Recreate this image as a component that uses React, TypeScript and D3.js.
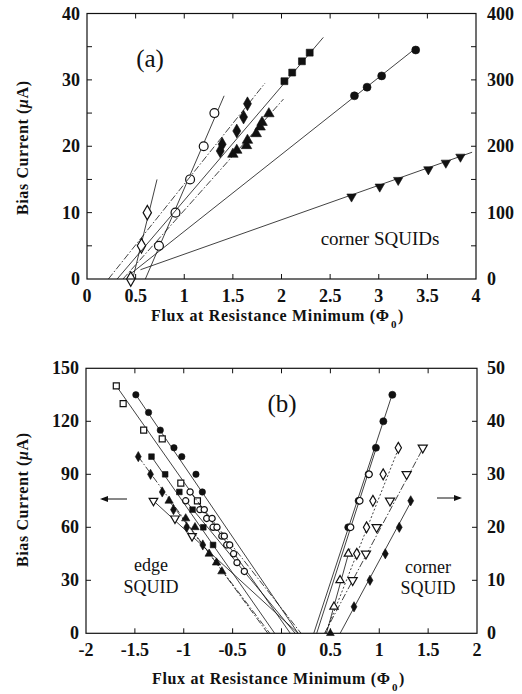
import React from "react";
import * as d3 from "d3";

// ---------- Panel (a) data: corner SQUIDs ----------
const aOpenDiamond = [[0.45, 0], [0.56, 5], [0.62, 10]];
const aOpenDiamondLine = [[0.47, 0], [0.72, 15]];
const aOpenCircle = [[0.74, 5], [0.91, 10], [1.06, 15], [1.2, 20], [1.31, 25]];
const aOpenCircleLine = [[0.6, 0], [1.41, 27.6]];
const aFilledDiamond = [[1.37, 19.3], [1.39, 20.3], [1.54, 22.3], [1.61, 24.4], [1.65, 26.4]];
const aFilledDiamondLine = [[0.22, 0], [1.83, 29.5]];
const aFilledSquare = [[2.03, 29.8], [2.11, 31.1], [2.21, 32.8], [2.29, 34.1]];
const aFilledSquareLine = [[0.31, 0], [2.43, 36.4]];
const aFilledTri = [[1.5, 18.8], [1.54, 19.4], [1.64, 20.1], [1.65, 20.9], [1.74, 21.9], [1.78, 22.9], [1.8, 23.6], [1.87, 24.9]];
const aFilledTriLine = [[0.37, 0], [2.02, 27.1]];
const aFilledCircle = [[2.75, 27.6], [2.88, 28.9], [3.03, 30.6], [3.38, 34.5]];
const aFilledCircleLine = [[0.45, 0.8], [3.4, 35]];
const aFilledTriDown = [[2.72, 12.4], [3.01, 13.9], [3.2, 14.9], [3.51, 16.5], [3.69, 17.5], [3.84, 18.4]];
const aFilledTriDownLine = [[0.55, 1.4], [3.96, 19.1]];

// ---------- Panel (b) data: edge SQUID (left axis, µA) ----------
const eFilledCircle = [[-1.49, 135], [-1.36, 125], [-1.24, 115], [-1.1, 105], [-1.02, 100], [-0.875, 90], [-0.81, 80]];
const eFilledCircleLine = [[-1.49, 135], [0.17, 0]];
const eOpenSquare = [[-1.69, 140], [-1.62, 130], [-1.41, 115], [-1.22, 110], [-1.03, 85], [-0.86, 75]];
const eOpenSquareLine = [[-1.69, 140], [0.09, 0]];
const eFilledDiamond = [[-1.465, 100], [-1.34, 90], [-1.22, 80], [-1.105, 70], [-0.97, 60], [-0.805, 50]];
const eFilledDiamondLine = [[-1.465, 100], [-0.14, 0]];
const eFilledSquare = [[-1.33, 100], [-1.19, 90], [-1.045, 80], [-0.91, 70], [-0.8, 60], [-0.7, 50]];
const eFilledSquareLine = [[-1.33, 100], [-0.07, 0]];
const eOpenTriDown = [[-1.31, 75], [-1.09, 65], [-0.915, 55]];
const eOpenTriDownLine = [[-1.31, 75], [0.17, 0]];
const eFilledTri = [[-1.15, 75], [-0.98, 65], [-0.885, 60], [-0.74, 45], [-0.665, 40], [-0.61, 35]];
const eFilledTriLine = [[-1.15, 75], [-0.12, 0]];
const eOpenCircleA = [[-0.98, 75], [-0.835, 70], [-0.765, 65], [-0.7, 60], [-0.61, 55], [-0.56, 50], [-0.49, 45], [-0.455, 40], [-0.38, 35]];
const eOpenCircleALine = [[-0.98, 75], [0.14, 0]];
const eOpenCircleB = [[-0.935, 80], [-0.79, 70], [-0.71, 65], [-0.66, 60], [-0.585, 55], [-0.53, 50]];
const eOpenCircleBLine = [[-0.935, 80], [0.2, 0]];

// ---------- Panel (b) data: corner SQUID (right axis, µA) ----------
const cFilledCircle = [[0.683, 20], [0.789, 25], [0.891, 30], [0.966, 35], [1.042, 40], [1.134, 45]];
const cFilledCircleLine = [[0.33, 0], [1.14, 45.5]];
const cOpenCircle = [[0.706, 20], [0.8, 25], [0.895, 30]];
const cOpenCircleLine = [[0.36, 0], [0.97, 35]];
const cOpenDiamond = [[0.77, 15], [0.87, 20], [0.935, 25], [1.04, 30], [1.195, 35]];
const cOpenDiamondLine = [[0.45, 0], [1.2, 35]];
const cOpenTriDown = [[0.728, 10], [0.864, 15], [0.973, 20], [1.11, 25], [1.28, 30], [1.445, 35]];
const cOpenTriDownLine = [[0.44, 0], [1.45, 35]];
const cFilledDiamond = [[0.742, 5], [0.905, 10], [1.062, 15], [1.205, 20], [1.322, 25]];
const cFilledDiamondLine = [[0.6, 0], [1.33, 25]];
const cOpenTriUp = [[0.537, 5], [0.599, 10], [0.684, 15]];
const cOpenTriUpLine = [[0.46, 0], [0.7, 16]];
const cFilledTri = [[0.5, 0]];

// ---------- Ticks ----------
const aXTicks = [0, 0.5, 1, 1.5, 2, 2.5, 3, 3.5, 4];
const aYTicks = [0, 10, 20, 30, 40];
const aY2Ticks = [0, 100, 200, 300, 400];
const aYMinor = [5, 10, 15, 20, 25, 30, 35];
const bXTicks = [-2, -1.5, -1, -0.5, 0, 0.5, 1, 1.5, 2];
const bYTicks = [0, 30, 60, 90, 120, 150];
const bY2Ticks = [0, 10, 20, 30, 40, 50];

const SERIF = "'Liberation Serif', 'Times New Roman', serif";
const INK = "#111";

type Pt = number[];

function Marker({ x, y, shape, filled, size }: { x: number; y: number; shape: string; filled: boolean; size: number }) {
  let type: any = d3.symbolCircle;
  let rot = 0;
  if (shape === "diamond") type = d3.symbolDiamond;
  if (shape === "square") type = d3.symbolSquare;
  if (shape === "tri") type = d3.symbolTriangle;
  if (shape === "triDown") { type = d3.symbolTriangle; rot = 180; }
  const path = d3.symbol().type(type).size(size)() as string;
  return (
    <path
      d={path}
      transform={`translate(${x},${y}) rotate(${rot})`}
      fill={filled ? INK : "#fff"}
      stroke={INK}
      strokeWidth={filled ? 0.6 : 1.2}
    />
  );
}

function Series({ pts, line, xs, ys, shape, filled, size, dash }: any) {
  const gen = d3.line<Pt>().x((d) => xs(d[0])).y((d) => ys(d[1]));
  return (
    <g>
      <path d={gen(line) as string} stroke={INK} strokeWidth={0.8} fill="none" strokeDasharray={dash || undefined} />
      {pts.map((p: Pt, i: number) => (
        <Marker key={i} x={xs(p[0])} y={ys(p[1])} shape={shape} filled={filled} size={size} />
      ))}
    </g>
  );
}

function Frame({ x0, x1, y0, y1 }: any) {
  return <rect x={x0} y={y1} width={x1 - x0} height={y0 - y1} fill="none" stroke={INK} strokeWidth={1.2} />;
}

function fmt(v: number) {
  return String(v);
}

function XTitle({ x, y }: { x: number; y: number }) {
  return (
    <g>
      <text x={x - 130} y={y} textLength={238} lengthAdjust="spacing"
        style={{ fontFamily: SERIF, fontWeight: "bold", fontSize: 16, fill: INK }}>
        Flux at Resistance Minimum (Φ
      </text>
      <text x={x + 110} y={y + 7} style={{ fontFamily: SERIF, fontWeight: "bold", fontSize: 11, fill: INK }}>0</text>
      <text x={x + 117} y={y} style={{ fontFamily: SERIF, fontWeight: "bold", fontSize: 16, fill: INK }}>)</text>
    </g>
  );
}

function YTitle({ x, y }: { x: number; y: number }) {
  return (
    <text transform={`translate(${x},${y}) rotate(-90)`} x={-67} y={0} textLength={134} lengthAdjust="spacing"
      style={{ fontFamily: SERIF, fontWeight: "bold", fontSize: 16, fill: INK }}>
      Bias Current (<tspan fontStyle="italic">μ</tspan>A)
    </text>
  );
}

export default function App() {
  // Panel (a) scales
  const axL = 87, axR = 476, ayT = 13.5, ayB = 279;
  const xA = d3.scaleLinear().domain([0, 4]).range([axL, axR]);
  const yA = d3.scaleLinear().domain([0, 40]).range([ayB, ayT]);
  const yA2 = d3.scaleLinear().domain([0, 400]).range([ayB, ayT]);

  // Panel (b) scales
  const bxL = 86, bxR = 477, byT = 368.3, byB = 633.3;
  const xB = d3.scaleLinear().domain([-2, 2]).range([bxL, bxR]);
  const yB = d3.scaleLinear().domain([0, 150]).range([byB, byT]);
  const yB2 = d3.scaleLinear().domain([0, 50]).range([byB, byT]);

  const tl = 5;
  const labelStyle: any = { fontFamily: SERIF, fontWeight: "bold", fontSize: 18, fill: INK };
  const dashA = "7,2,1.5,2";
  const noteStyle: any = { fontFamily: SERIF, fontSize: 18, fill: INK };

  const sa = { xs: xA, ys: yA };
  const sbL = { xs: xB, ys: yB };
  const sbR = { xs: xB, ys: yB2 };

  return (
    <svg width={522} height={694} style={{ position: "absolute", left: 0, top: 0, background: "#fff" }}>
      <rect x={0} y={0} width={522} height={694} fill="#fff" />

      {/* ================= Panel (a) ================= */}
      <g>
        {aXTicks.slice(1, -1).map((t) => (
          <g key={"axt" + t}>
            <line x1={xA(t)} x2={xA(t)} y1={ayB} y2={ayB - tl} stroke={INK} strokeWidth={1} />
            <line x1={xA(t)} x2={xA(t)} y1={ayT} y2={ayT + tl} stroke={INK} strokeWidth={1} />
          </g>
        ))}
        {aYMinor.map((t) => (
          <g key={"ayt" + t}>
            <line x1={axL} x2={axL + tl} y1={yA(t)} y2={yA(t)} stroke={INK} strokeWidth={1} />
            <line x1={axR} x2={axR - tl} y1={yA(t)} y2={yA(t)} stroke={INK} strokeWidth={1} />
          </g>
        ))}
        {aXTicks.map((t) => (
          <text key={"axl" + t} x={xA(t)} y={302} textAnchor="middle" style={labelStyle}>{fmt(t)}</text>
        ))}
        {aYTicks.map((t) => (
          <text key={"ayl" + t} x={80} y={yA(t) + 6} textAnchor="end" style={labelStyle}>{fmt(t)}</text>
        ))}
        {aY2Ticks.map((t) => (
          <text key={"ay2l" + t} x={487} y={yA2(t) + 6} textAnchor="start" style={labelStyle}>{fmt(t)}</text>
        ))}

        <Series {...sa} pts={aOpenDiamond} line={aOpenDiamondLine} shape="diamond" filled={false} size={60} />
        <Series {...sa} pts={aOpenCircle} line={aOpenCircleLine} shape="circle" filled={false} size={62} />
        <Series {...sa} pts={aFilledDiamond} line={aFilledDiamondLine} shape="diamond" filled={true} size={55} dash={dashA} />
        <Series {...sa} pts={aFilledSquare} line={aFilledSquareLine} shape="square" filled={true} size={48} />
        <Series {...sa} pts={aFilledTri} line={aFilledTriLine} shape="tri" filled={true} size={48} dash={dashA} />
        <Series {...sa} pts={aFilledCircle} line={aFilledCircleLine} shape="circle" filled={true} size={50} />
        <Series {...sa} pts={aFilledTriDown} line={aFilledTriDownLine} shape="triDown" filled={true} size={38} />

        <Frame x0={axL} x1={axR} y0={ayB} y1={ayT} />

        <text x={150} y={67} textAnchor="middle" style={{ fontFamily: SERIF, fontSize: 25, fill: INK }}>(a)</text>
        <text x={380} y={245} textAnchor="middle" style={{ fontFamily: SERIF, fontSize: 19, fill: INK }}>corner SQUIDs</text>

        <XTitle x={281} y={321} />
        <YTitle x={28} y={148} />
      </g>

      {/* ================= Panel (b) ================= */}
      <g>
        {bXTicks.slice(1, -1).map((t) => (
          <g key={"bxt" + t}>
            <line x1={xB(t)} x2={xB(t)} y1={byB} y2={byB - tl} stroke={INK} strokeWidth={1} />
            <line x1={xB(t)} x2={xB(t)} y1={byT} y2={byT + tl} stroke={INK} strokeWidth={1} />
          </g>
        ))}
        {bYTicks.slice(1, -1).map((t) => (
          <line key={"byt" + t} x1={bxL} x2={bxL + tl} y1={yB(t)} y2={yB(t)} stroke={INK} strokeWidth={1} />
        ))}
        {bY2Ticks.slice(1, -1).map((t) => (
          <line key={"by2t" + t} x1={bxR} x2={bxR - tl} y1={yB2(t)} y2={yB2(t)} stroke={INK} strokeWidth={1} />
        ))}
        {bXTicks.map((t) => (
          <text key={"bxl" + t} x={xB(t)} y={656} textAnchor="middle" style={labelStyle}>{fmt(t)}</text>
        ))}
        {bYTicks.map((t) => (
          <text key={"byl" + t} x={79} y={yB(t) + 6} textAnchor="end" style={labelStyle}>{fmt(t)}</text>
        ))}
        {bY2Ticks.map((t) => (
          <text key={"by2l" + t} x={487} y={yB2(t) + 6} textAnchor="start" style={labelStyle}>{fmt(t)}</text>
        ))}

        {/* edge SQUID */}
        <Series {...sbL} pts={eFilledCircle} line={eFilledCircleLine} shape="circle" filled={true} size={32} />
        <Series {...sbL} pts={eOpenSquare} line={eOpenSquareLine} shape="square" filled={false} size={36} />
        <Series {...sbL} pts={eFilledDiamond} line={eFilledDiamondLine} shape="diamond" filled={true} size={30} dash={dashA} />
        <Series {...sbL} pts={eFilledSquare} line={eFilledSquareLine} shape="square" filled={true} size={32} />
        <Series {...sbL} pts={eOpenTriDown} line={eOpenTriDownLine} shape="triDown" filled={false} size={32} />
        <Series {...sbL} pts={eFilledTri} line={eFilledTriLine} shape="tri" filled={true} size={30} dash={dashA} />
        <Series {...sbL} pts={eOpenCircleA} line={eOpenCircleALine} shape="circle" filled={false} size={30} />
        <Series {...sbL} pts={eOpenCircleB} line={eOpenCircleBLine} shape="circle" filled={false} size={30} dash={dashA} />

        {/* corner SQUID */}
        <Series {...sbR} pts={cFilledCircle} line={cFilledCircleLine} shape="circle" filled={true} size={40} />
        <Series {...sbR} pts={cOpenCircle} line={cOpenCircleLine} shape="circle" filled={false} size={34} />
        <Series {...sbR} pts={cOpenDiamond} line={cOpenDiamondLine} shape="diamond" filled={false} size={34} dash="2,2" />
        <Series {...sbR} pts={cOpenTriDown} line={cOpenTriDownLine} shape="triDown" filled={false} size={36} dash={dashA} />
        <Series {...sbR} pts={cFilledDiamond} line={cFilledDiamondLine} shape="diamond" filled={true} size={30} />
        <Series {...sbR} pts={cOpenTriUp} line={cOpenTriUpLine} shape="tri" filled={false} size={30} />
        <Series {...sbR} pts={cFilledTri} line={[[0.5, 0], [0.5, 0]]} shape="tri" filled={true} size={26} />

        <Frame x0={bxL} x1={bxR} y0={byB} y1={byT} />

        <text x={282} y={412} textAnchor="middle" style={{ fontFamily: SERIF, fontSize: 25, fill: INK }}>(b)</text>
        <text x={151} y={571} textAnchor="middle" style={noteStyle}>edge</text>
        <text x={151} y={593} textAnchor="middle" style={noteStyle}>SQUID</text>
        <text x={428} y={573} textAnchor="middle" style={noteStyle}>corner</text>
        <text x={428} y={594} textAnchor="middle" style={noteStyle}>SQUID</text>

        {/* arrows */}
        <line x1={127} x2={102} y1={499} y2={499} stroke={INK} strokeWidth={1} />
        <path d="M100,499 L108,496 L108,502 Z" fill={INK} />
        <line x1={437} x2={460} y1={498} y2={498} stroke={INK} strokeWidth={1} />
        <path d="M462,498 L454,495 L454,501 Z" fill={INK} />

        <XTitle x={282} y={684} />
        <YTitle x={28} y={500} />
      </g>
    </svg>
  );
}
